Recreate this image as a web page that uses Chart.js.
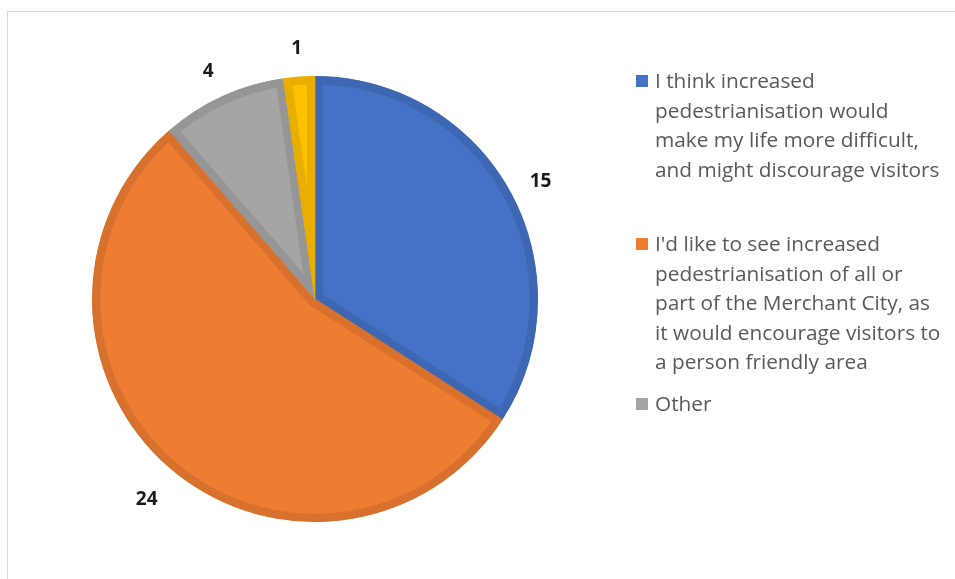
<!DOCTYPE html>
<html>
<head>
<meta charset="utf-8">
<script src="https://cdn.jsdelivr.net/npm/chart.js@4.4.1/dist/chart.umd.min.js"></script>
<style>
  html, body { margin: 0; padding: 0; background: #fff; }
  #wrap { position: relative; width: 955px; height: 579px; overflow: hidden; }
  #frame { position: absolute; left: 7px; top: 11px; width: 990px; height: 620px; border: 1px solid #d9d9d9; }
  #grafico { position: absolute; left: 0; top: 0; }
  .leg { position: absolute; left: 636px; font-family: "Open Sans", sans-serif; font-size: 20.8px; color: #595959; line-height: 29.5px; }
  .leg .box { position: absolute; left: 0; top: 9px; width: 12px; height: 12px; }
  .leg .txt { margin-left: 19px; white-space: nowrap; }
</style>
</head>
<body>
<div id="wrap">
  <div id="frame"></div>
  <canvas id="grafico" width="955" height="579"></canvas>
  <div id="legenda"></div>
</div>
<script>
var categorias = [
    ["I think increased", "pedestrianisation would", "make my life more difficult,", "and might discourage visitors"],
    ["I'd like to see increased", "pedestrianisation of all or", "part of the Merchant City, as", "it would encourage visitors to", "a person friendly area"],
    ["Other"],
    [""]
];
var valores = [15, 24, 4, 1];
var cores = ['#4472C4', '#ED7D31', '#A5A5A5', '#FFC000'];
var coresBorda = ['#3D67B3', '#D8712D', '#969696', '#E8AF00'];
var topoLegenda = [66, 229, 389];

// rotulos de dados fora da pizza
const rotulos = {
    id: 'rotulos',
    afterDatasetsDraw(chart) {
        const ctx = chart.ctx;
        const meta = chart.getDatasetMeta(0);
        ctx.save();
        ctx.font = 'bold 19px "Open Sans", sans-serif';
        ctx.fillStyle = '#1a1a1a';
        ctx.textAlign = 'center';
        ctx.textBaseline = 'middle';
        meta.data.forEach((arc, i) => {
            const meio = (arc.startAngle + arc.endAngle) / 2;
            const r = arc.outerRadius + 34;
            ctx.fillText(String(valores[i]), arc.x + Math.cos(meio) * r, arc.y + Math.sin(meio) * r + 6);
        });
        ctx.restore();
    }
};

const ctx = document.getElementById('grafico').getContext('2d');
var grafico = new Chart(ctx, {
    type: 'pie',
    data: {
        labels: categorias.map(c => c.join(' ')),
        datasets: [{
            data: valores,
            backgroundColor: cores,
            borderColor: coresBorda,
            borderWidth: 8,
            borderAlign: 'inner'
        }]
    },
    options: {
        responsive: false,
        animation: false,
        layout: { padding: { left: 92, right: 417, top: 76, bottom: 57 } },
        plugins: {
            legend: { display: false },
            tooltip: { enabled: false }
        }
    },
    plugins: [rotulos]
});

// legenda em html (so os tres primeiros itens)
var legenda = document.getElementById('legenda');
for (let i = 0; i < 3; i++) {
    const item = document.createElement('div');
    item.className = 'leg';
    item.style.top = topoLegenda[i] + 'px';
    item.innerHTML = `<div class="box" style="background:${cores[i]}"></div><div class="txt">${categorias[i].join('<br>')}</div>`;
    legenda.appendChild(item);
}
</script>
</body>
</html>
